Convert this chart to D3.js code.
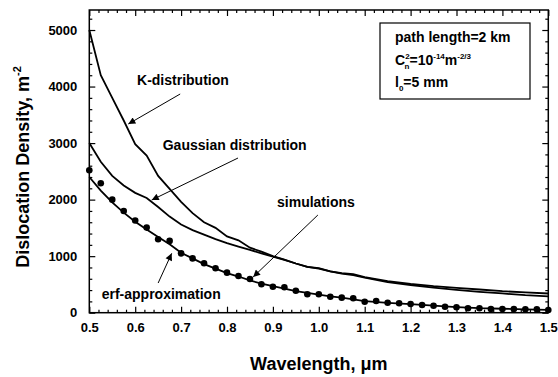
<!DOCTYPE html>
<html lang="en">
<head>
  <meta charset="UTF-8">
  <title>Dislocation density vs wavelength</title>
  <script src="https://d3js.org/d3.v7.min.js"></script>
  <style>
    body {
      margin: 0;
      background: #fff;
      font-family: "Liberation Sans", Arial, sans-serif;
    }
    svg text {
      font-weight: bold;
      fill: #000;
    }
  </style>
</head>
<body>
<svg width="558" height="377"></svg>

<script>
  // wavelength grid of the theory curves (um)
  const curveWavelengths = [0.5, 0.525, 0.55, 0.575, 0.6, 0.625, 0.65, 0.675, 0.7, 0.725, 0.75, 0.775,
    0.8, 0.825, 0.85, 0.875, 0.9, 0.925, 0.95, 0.975, 1.0, 1.025, 1.05, 1.075, 1.1, 1.15, 1.2, 1.25,
    1.3, 1.35, 1.4, 1.45, 1.5];
  const kDistribution = [5000, 4200, 3800, 3400, 2980, 2780, 2420, 2190, 1960, 1760, 1600, 1500,
    1350, 1280, 1150, 1080, 1000, 940, 870, 810, 790, 730, 700, 680, 630, 560, 510, 470,
    440, 410, 380, 360, 340];
  const gaussian = [3000, 2670, 2420, 2250, 2120, 2030, 1870, 1700, 1560, 1460, 1380, 1300,
    1230, 1170, 1110, 1050, 990, 935, 870, 810, 780, 730, 690, 665, 620, 540, 490, 445,
    405, 370, 340, 310, 290];
  const erfApprox = [2400, 2160, 1950, 1770, 1610, 1470, 1340, 1210, 1060, 960, 860, 780,
    700, 640, 570, 515, 470, 425, 380, 350, 320, 290, 265, 235, 205, 175, 150, 125,
    100, 80, 70, 60, 50];

  // simulation points
  const simWavelengths = [0.5, 0.525, 0.55, 0.575, 0.6, 0.625, 0.65, 0.675, 0.7, 0.725, 0.75, 0.775,
    0.8, 0.825, 0.85, 0.875, 0.9, 0.925, 0.95, 0.975, 1.0, 1.025, 1.05, 1.075, 1.1, 1.125, 1.15,
    1.175, 1.2, 1.225, 1.25, 1.275, 1.3, 1.325, 1.35, 1.375, 1.4, 1.425, 1.45, 1.475, 1.5];
  const simulations = [2520, 2290, 2000, 1800, 1630, 1505, 1300, 1270, 1050, 960, 875, 786,
    708, 650, 596, 503, 460, 450, 389, 326, 326, 283, 266, 255, 195, 207, 177,
    166, 154, 136, 124, 106, 96, 78, 78, 65, 65, 65, 60, 60, 48];

  const xTicks = [0.5, 0.6, 0.7, 0.8, 0.9, 1.0, 1.1, 1.2, 1.3, 1.4, 1.5];
  const yTicks = [0, 1000, 2000, 3000, 4000, 5000];

  // annotations: label, text anchor point, arrow start, arrow end (data units)
  const notes = [
    { text: "K-distribution", at: [0.604, 4025], from: [0.698, 3868], to: [0.585, 3338] },
    { text: "Gaussian distribution", at: [0.66, 2877], from: [0.824, 2736], to: [0.636, 1993] },
    { text: "simulations", at: [0.909, 1870], from: [0.998, 1728], to: [0.857, 632] },
    { text: "erf-approximation", at: [0.527, 242], from: [0.650, 525], to: [0.6795, 1050] }
  ];

  const svg = d3.select("svg");
  const plotL = 89.3, plotR = 548.3, plotT = 10, plotB = 312.7;

  const x = d3.scaleLinear().domain([0.5, 1.5]).range([plotL, plotR]);
  const y = d3.scaleLinear().domain([0, 5354]).range([plotB, plotT]);

  svg.append("defs").append("marker")
    .attr("id", "head")
    .attr("viewBox", "0 0 10 10")
    .attr("refX", 10).attr("refY", 5)
    .attr("markerWidth", 9).attr("markerHeight", 7)
    .attr("markerUnits", "userSpaceOnUse")
    .attr("orient", "auto")
    .append("path")
    .attr("d", "M0,0 L10,5 L0,10 Z")
    .attr("fill", "#000");

  // axes, ticks pointing inward on all four sides
  function drawAxis(axis, tx, ty) {
    const g = svg.append("g").attr("transform", `translate(${tx},${ty})`).call(axis);
    g.select(".domain").remove();
    g.selectAll("line").attr("stroke", "#000").attr("stroke-width", 1.2);
    return g;
  }

  const xMinor = d3.range(25, 76).map(i => i / 50).filter(v => Math.round(v * 50) % 5 !== 0);
  const yMinor = d3.range(0, 27).map(i => i * 200).filter(v => v % 1000 !== 0);

  drawAxis(d3.axisBottom(x).tickValues(xMinor).tickSize(-3).tickFormat(""), 0, plotB);
  drawAxis(d3.axisTop(x).tickValues(xMinor).tickSize(-3).tickFormat(""), 0, plotT);
  drawAxis(d3.axisLeft(y).tickValues(yMinor).tickSize(-3).tickFormat(""), plotL, 0);
  drawAxis(d3.axisRight(y).tickValues(yMinor).tickSize(-3).tickFormat(""), plotR, 0);

  const xb = drawAxis(d3.axisBottom(x).tickValues(xTicks).tickSize(-6).tickPadding(12)
    .tickFormat(d3.format(".1f")), 0, plotB);
  drawAxis(d3.axisTop(x).tickValues(xTicks).tickSize(-6).tickFormat(""), 0, plotT);
  const yl = drawAxis(d3.axisLeft(y).tickValues(yTicks).tickSize(-6).tickPadding(12)
    .tickFormat(d3.format("d")), plotL, 0);
  drawAxis(d3.axisRight(y).tickValues(yTicks).tickSize(-6).tickFormat(""), plotR, 0);

  [xb, yl].forEach(g => g.selectAll("text")
    .attr("font-family", "'Liberation Sans', Arial, sans-serif")
    .attr("font-size", 13).attr("font-weight", "bold").attr("fill", "#000"));
  xb.selectAll("text").attr("dy", "0.6em");

  svg.append("rect")
    .attr("x", plotL).attr("y", plotT)
    .attr("width", plotR - plotL).attr("height", plotB - plotT)
    .attr("fill", "none").attr("stroke", "#000").attr("stroke-width", 1.5);

  // curves
  const line = d3.line().x(d => x(d[0])).y(d => y(d[1]));
  [kDistribution, gaussian, erfApprox].forEach(series => {
    svg.append("path")
      .datum(curveWavelengths.map((w, i) => [w, series[i]]))
      .attr("d", line)
      .attr("fill", "none")
      .attr("stroke", "#000")
      .attr("stroke-width", 1.8);
  });

  svg.append("g").selectAll("circle")
    .data(simWavelengths.map((w, i) => [w, simulations[i]]))
    .join("circle")
    .attr("cx", d => x(d[0]))
    .attr("cy", d => y(d[1]))
    .attr("r", 3.3)
    .attr("fill", "#000");

  // annotations
  notes.forEach(n => {
    svg.append("text")
      .attr("x", x(n.at[0])).attr("y", y(n.at[1]))
      .attr("font-size", 14)
      .text(n.text);
    svg.append("line")
      .attr("x1", x(n.from[0])).attr("y1", y(n.from[1]))
      .attr("x2", x(n.to[0])).attr("y2", y(n.to[1]))
      .attr("stroke", "#000").attr("stroke-width", 1)
      .attr("marker-end", "url(#head)");
  });

  // parameter box
  const box = svg.append("g").attr("transform", "translate(380,23)");
  box.append("rect")
    .attr("width", 150).attr("height", 76)
    .attr("fill", "#fff").attr("stroke", "#000").attr("stroke-width", 1.2);
  box.append("text").attr("x", 15).attr("y", 19).attr("font-size", 14).text("path length=2 km");

  const c2 = box.append("text").attr("x", 15).attr("y", 42).attr("font-size", 14);
  c2.append("tspan").text("C");
  c2.append("tspan").attr("font-size", 8).attr("dy", -6).text("2");
  c2.append("tspan").attr("font-size", 8).attr("dx", -5).attr("dy", 10).text("n");
  c2.append("tspan").attr("dy", -4).text("=10");
  c2.append("tspan").attr("font-size", 8).attr("dy", -6).text("-14");
  c2.append("tspan").attr("dy", 6).text("m");
  c2.append("tspan").attr("font-size", 8).attr("dy", -6).text("-2/3");

  const l0 = box.append("text").attr("x", 15).attr("y", 64).attr("font-size", 14);
  l0.append("tspan").text("l");
  l0.append("tspan").attr("font-size", 8).attr("dy", 4).text("0");
  l0.append("tspan").attr("dy", -4).text("=5 mm");

  // axis titles
  svg.append("text")
    .attr("x", (plotL + plotR) / 2).attr("y", 370)
    .attr("text-anchor", "middle")
    .attr("font-size", 18)
    .text("Wavelength, \u03bcm");

  const yt = svg.append("text")
    .attr("transform", "translate(29,167) rotate(-90)")
    .attr("text-anchor", "middle")
    .attr("font-size", 18);
  yt.append("tspan").text("Dislocation Density, m");
  yt.append("tspan").attr("font-size", 11).attr("dy", -8).text("-2");
</script>
</body>
</html>
